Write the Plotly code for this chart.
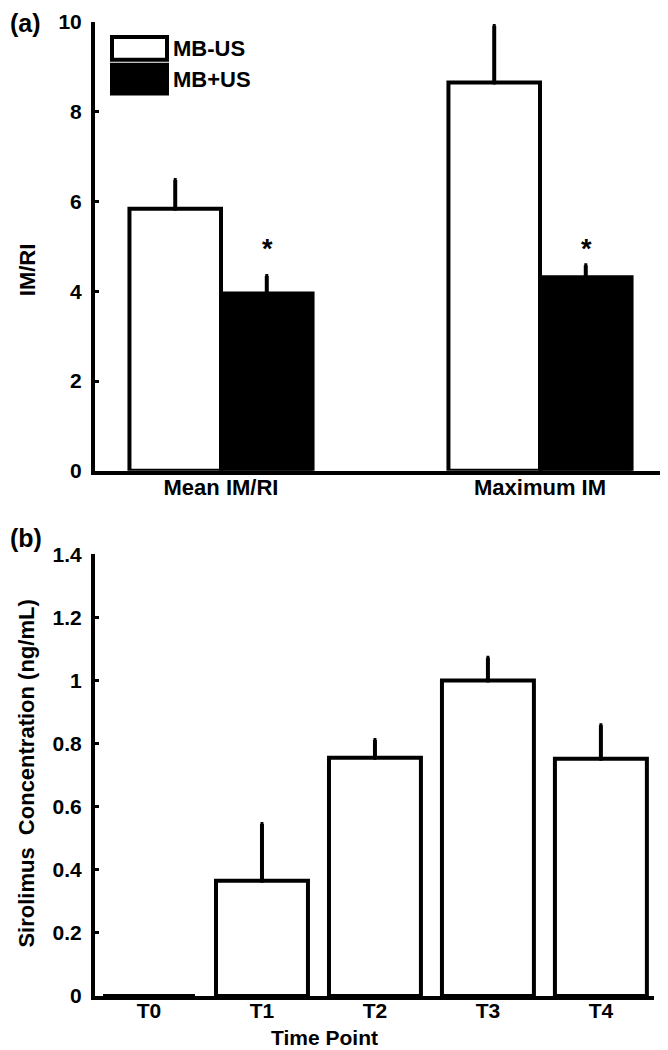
import plotly.graph_objects as go
from plotly.subplots import make_subplots

# ---------------- data ----------------
groups = ["Mean IM/RI", "Maximum IM"]
mb_minus_us = [5.84, 8.65]
mb_minus_us_err = [0.64, 1.26]
mb_plus_us = [3.95, 4.31]
mb_plus_us_err = [0.39, 0.27]
sig_marks = ["*", "*"]
sig_y = [4.95, 4.95]

time_points = ["T0", "T1", "T2", "T3", "T4"]
sirolimus = [0.0, 0.365, 0.755, 1.0, 0.752]
sirolimus_err = [0.0, 0.18, 0.056, 0.072, 0.106]

y_ticks_a = [0, 2, 4, 6, 8, 10]
y_ticks_b = [0, 0.2, 0.4, 0.6, 0.8, 1, 1.2, 1.4]

# ---------------- style ----------------
FONT = "Liberation Sans, Arial, sans-serif"
LW = 4
# the page body has an 8px margin, so the figure is sized/offset to compensate
PAGE_OFF = 8
W, H = 668 - PAGE_OFF, 1050 - PAGE_OFF
ML, MR, MT, MB = 95 - PAGE_OFF, 2, 15 - PAGE_OFF, 54
PW = W - ML - MR          # plot width in px
PH = H - MT - MB          # plot height in px
Y0 = 996                  # page y of plot bottom


def py(page_y):
    return (Y0 - page_y) / PH


fig = make_subplots(rows=2, cols=1)

err_style = dict(type="data", symmetric=False, thickness=LW, width=1.5, color="black")

fig.add_trace(go.Bar(
    x=groups, y=mb_minus_us, name="MB-US",
    marker=dict(color="white", line=dict(color="black", width=LW)),
    error_y=dict(array=mb_minus_us_err, arrayminus=[0] * len(groups), **err_style),
    showlegend=False), row=1, col=1)
fig.add_trace(go.Bar(
    x=groups, y=mb_plus_us, name="MB+US",
    marker=dict(color="black", line=dict(color="black", width=LW)),
    error_y=dict(array=mb_plus_us_err, arrayminus=[0] * len(groups), **err_style),
    showlegend=False), row=1, col=1)

fig.add_trace(go.Bar(
    x=time_points, y=sirolimus, width=0.814,
    marker=dict(color="white", line=dict(color="black", width=LW)),
    error_y=dict(array=sirolimus_err, arrayminus=[0] * len(time_points), **err_style),
    showlegend=False), row=2, col=1)

# significance asterisks above MB+US bars
for g, s, yv in zip(groups, sig_marks, sig_y):
    fig.add_annotation(x=g, y=yv, xref="x", yref="y", text=s, showarrow=False,
                       xshift=46, yanchor="middle",
                       font=dict(family=FONT, size=27, color="black", weight="bold"))

axis_common = dict(showline=True, linecolor="black", linewidth=LW, showgrid=False,
                   zeroline=False, mirror=False)

xtick_font = dict(family=FONT, size=21, color="black", weight="bold")
ytick_font = dict(family=FONT, size=21, color="black", weight="bold")

fig.update_xaxes(axis_common, row=1, col=1, domain=[0, 1], range=[-0.395, 1.395], ticks="",
                 ticklabelstandoff=-6, tickfont=dict(xtick_font, size=22))
fig.update_xaxes(axis_common, row=2, col=1, domain=[0, (654 - 95) / PW], range=[-0.478, 4.47],
                 ticks="", ticklabelstandoff=-7, tickfont=xtick_font)
fig.update_yaxes(axis_common, row=1, col=1, domain=[py(467), 1], range=[0, 10],
                 tickvals=y_ticks_a, ticks="inside", ticklen=4, tickwidth=3, tickcolor="black",
                 ticklabelstandoff=5, tickfont=ytick_font)
fig.update_yaxes(axis_common, row=2, col=1, domain=[0, py(551)], range=[0, 1.4],
                 tickvals=y_ticks_b, ticks="inside", ticklen=4, tickwidth=3, tickcolor="black",
                 ticklabelstandoff=5, tickfont=ytick_font)

lab_font = dict(family=FONT, size=22, color="black", weight="bold")
# axis titles
fig.add_annotation(text="IM/RI", xref="paper", yref="paper", x=-68 / PW, y=py(265),
                   textangle=-90, showarrow=False, xanchor="center", yanchor="middle", font=lab_font)
fig.add_annotation(text="Sirolimus  Concentration (ng/mL)", xref="paper", yref="paper",
                   x=-68 / PW, y=py(772), textangle=-90, showarrow=False,
                   xanchor="center", yanchor="middle", font=lab_font)
fig.add_annotation(text="Time Point", xref="paper", yref="paper",
                   x=(324 - 95) / PW, y=py(1038), showarrow=False,
                   xanchor="center", yanchor="middle", borderpad=0,
                   font=dict(family=FONT, size=21, color="black", weight="bold"))
# panel labels
pl_font = dict(family=FONT, size=25, color="black", weight="bold")
fig.add_annotation(text="(a)", xref="paper", yref="paper", x=-ML / PW, y=py(16),
                   showarrow=False, xanchor="left", yanchor="middle", font=pl_font)
fig.add_annotation(text="(b)", xref="paper", yref="paper", x=-ML / PW, y=py(535),
                   showarrow=False, xanchor="left", yanchor="middle", font=pl_font)

# custom legend (page pixel boxes)
leg = [("MB-US", "white", 30, 53), ("MB+US", "black", 58, 87)]
for name, col, top, bot in leg:
    fig.add_shape(type="rect", xref="paper", yref="paper",
                  x0=(112 - 95) / PW, x1=(167 - 95) / PW, y0=py(bot), y1=py(top),
                  line=dict(color="black", width=LW), fillcolor=col)
    fig.add_annotation(text=name, xref="paper", yref="paper", x=(171 - 95) / PW,
                       y=py((top + bot) / 2), showarrow=False, xanchor="left",
                       yanchor="middle", font=lab_font)

fig.update_layout(width=W, height=H, margin=dict(l=ML, r=MR, t=MT, b=MB),
                  paper_bgcolor="white", plot_bgcolor="white",
                  barmode="group", bargap=0.426, bargroupgap=0, showlegend=False)

fig.write_html("out.html")
